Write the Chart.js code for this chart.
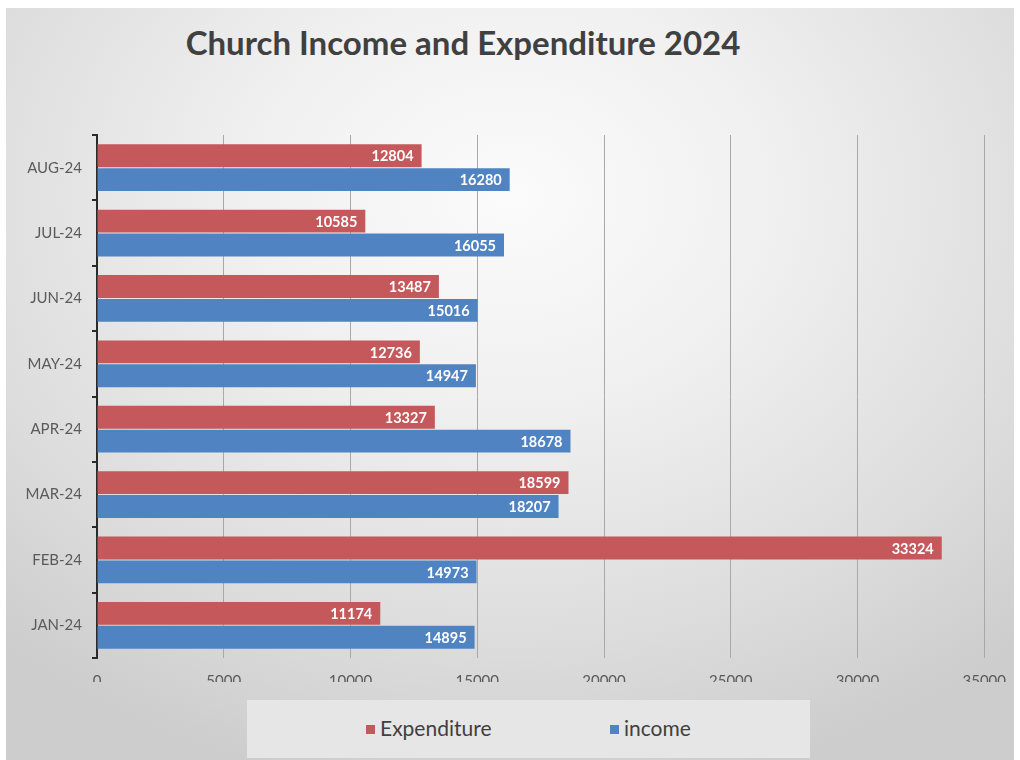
<!DOCTYPE html>
<html>
<head>
<meta charset="utf-8">
<script src="https://cdn.jsdelivr.net/npm/chart.js@4.4.1/dist/chart.umd.min.js"></script>
<style>
  html, body { margin:0; padding:0; background:#ffffff; }
  #wrap { position:relative; width:1020px; height:760px; overflow:hidden; }
  #bg { position:absolute; left:6px; top:8px; width:1008px; height:752px;
        background: radial-gradient(ellipse 75% 80% at 50% 25%, #fbfbfb 0%, #f0f0f0 35%, #dcdcdc 75%, #cdcdcd 100%); }
  #title { position:absolute; left:0; width:926px; top:22px; text-align:center;
           font-family: Lato, "Open Sans", sans-serif; font-weight:700; font-size:33px; color:#404040; }
  #legendBox { position:absolute; left:247px; top:700px; width:563px; height:58px; background:#e6e6e6; }
  .li { position:absolute; top:715px; font-family: Lato, "Open Sans", sans-serif; font-size:21px; color:#404040; }
  .sw { display:inline-block; width:9px; height:9px; margin-right:5px; vertical-align:2px; }
  canvas { position:absolute; left:0; top:0; }
</style>
</head>
<body>
<div id="wrap">
  <div id="bg"></div>
  <div id="title">Church Income and Expenditure 2024</div>
  <div id="legendBox"></div>
  <div class="li" style="left:366px;"><span class="sw" style="background:#c4585a"></span>Expenditure</div>
  <div class="li" style="left:610px;"><span class="sw" style="background:#5083c2"></span>income</div>
  <canvas id="c" width="1020" height="760"></canvas>
</div>
<script>
const categories = ["JAN-24","FEB-24","MAR-24","APR-24","MAY-24","JUN-24","JUL-24","AUG-24"];
const expenditure = [11174, 33324, 18599, 13327, 12736, 13487, 10585, 12804];
const income = [14895, 14973, 18207, 18678, 14947, 15016, 16055, 16280];
const xTicks = [0, 5000, 10000, 15000, 20000, 25000, 30000, 35000];

const labelPlugin = {
  id: 'barLabels',
  afterDatasetsDraw(chart) {
    const ctx = chart.ctx;
    ctx.save();
    ctx.font = 'bold 14.5px Lato, "Open Sans", sans-serif';
    ctx.fillStyle = '#ffffff';
    ctx.textAlign = 'right';
    ctx.textBaseline = 'middle';
    chart.data.datasets.forEach((ds, i) => {
      chart.getDatasetMeta(i).data.forEach((bar, j) => {
        ctx.fillText(String(ds.data[j]), bar.x - 8, bar.y + 1);
      });
    });
    ctx.restore();
  }
};

new Chart(document.getElementById('c'), {
  type: 'bar',
  data: {
    labels: categories,
    datasets: [
      { label: 'Expenditure', data: expenditure, backgroundColor: '#c4585a', borderWidth: 0,
        categoryPercentage: 0.73, barPercentage: 0.96 },
      { label: 'income', data: income, backgroundColor: '#5083c2', borderWidth: 0,
        categoryPercentage: 0.73, barPercentage: 0.96 }
    ]
  },
  options: {
    indexAxis: 'y',
    responsive: false,
    animation: false,
    layout: { padding: { left: 10, right: 32, top: 135, bottom: 78 } },
    plugins: { legend: { display: false }, title: { display: false }, tooltip: { enabled: false } },
    scales: {
      x: {
        min: 0, max: 35000,
        afterBuildTicks: (s) => { s.ticks = xTicks.map(v => ({ value: v })); },
        afterFit: (s) => { s.height = 24; },
        grid: { color: '#a8a8a8', lineWidth: 1, drawTicks: false },
        border: { display: false },
        ticks: { color: '#5a5a5a', padding: 14, callback: (v) => String(v),
                 font: { family: 'Lato, "Open Sans", sans-serif', size: 15 } }
      },
      y: {
        reverse: true,
        afterFit: (s) => { s.width = 87; },
        grid: { offset: true, drawOnChartArea: false, drawTicks: true, tickLength: 5, color: '#2a2a2a', lineWidth: 2 },
        border: { display: true, color: '#2a2a2a', width: 2 },
        ticks: { color: '#5a5a5a', padding: 10, font: { family: 'Lato, "Open Sans", sans-serif', size: 15 } }
      }
    }
  },
  plugins: [labelPlugin]
});
</script>
</body>
</html>
